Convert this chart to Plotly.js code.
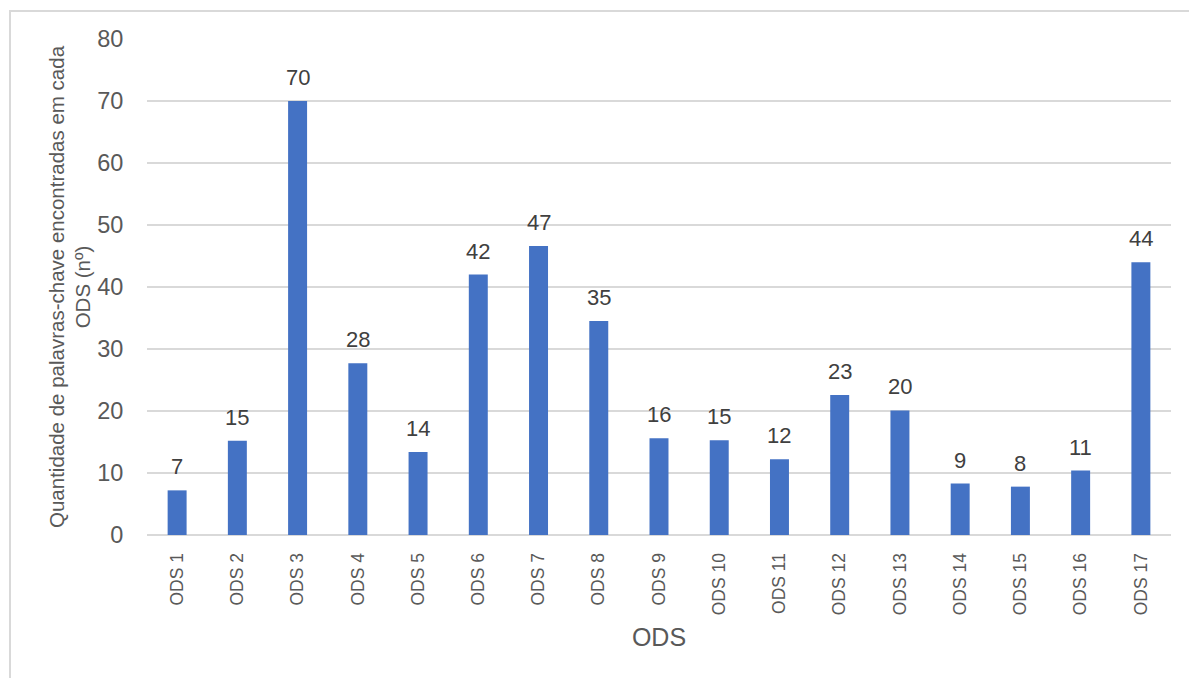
<!DOCTYPE html>
<html>
<head>
<meta charset="utf-8">
<script src="https://cdn.plot.ly/plotly-3.0.1.min.js"></script>
<style>
  html, body { margin: 0; padding: 0; background: #ffffff; }
  #frame { position: absolute; left: 9px; top: 10px; width: 1200px; height: 700px;
           border-left: 2px solid #d9d9d9; border-top: 2px solid #d9d9d9; }
  #chart { position: absolute; left: 0; top: 0; width: 1189px; height: 678px; }
</style>
</head>
<body>
<div id="frame"></div>
<div id="chart"></div>
<script>
// Categories (x axis)
const categories = ["ODS 1","ODS 2","ODS 3","ODS 4","ODS 5","ODS 6","ODS 7","ODS 8","ODS 9",
                    "ODS 10","ODS 11","ODS 12","ODS 13","ODS 14","ODS 15","ODS 16","ODS 17"];
// Bar heights
const values = [7.2, 15.2, 70.0, 27.7, 13.4, 42.0, 46.6, 34.5, 15.6,
                15.3, 12.2, 22.6, 20.1, 8.3, 7.8, 10.4, 44.0];
// Data labels as printed on the chart
const labels = ["7","15","70","28","14","42","47","35","16",
                "15","12","23","20","9","8","11","44"];
// Y axis ticks
const yTicks = [0, 10, 20, 30, 40, 50, 60, 70, 80];

const trace = {
  type: "bar",
  x: categories,
  y: values,
  marker: { color: "#4472C4" },
  hoverinfo: "x+y"
};

const annotations = categories.map((c, i) => ({
  x: c, y: values[i], xref: "x", yref: "y",
  text: labels[i], showarrow: false,
  yanchor: "bottom", yshift: 9,
  font: { family: "Liberation Sans, Arial, sans-serif", size: 22, color: "#404040" }
}));

const layout = {
  width: 1189, height: 678,
  margin: { l: 147, r: 18, t: 39, b: 143, pad: 0 },
  paper_bgcolor: "rgba(0,0,0,0)",
  plot_bgcolor: "rgba(0,0,0,0)",
  bargap: 0.685,
  showlegend: false,
  font: { family: "Liberation Sans, Arial, sans-serif", color: "#595959" },
  xaxis: {
    type: "category",
    tickangle: -90,
    tickfont: { size: 17.5, color: "#595959" },
    ticks: "outside", ticklen: 10, tickcolor: "rgba(0,0,0,0)",
    showline: false, showgrid: false, zeroline: false,
    title: { text: "ODS", font: { size: 25, color: "#595959" }, standoff: 14 },
    automargin: false
  },
  yaxis: {
    range: [0, 80],
    tickvals: yTicks,
    ticktext: yTicks.map(String),
    tickfont: { size: 23.5, color: "#595959" },
    ticks: "outside", ticklen: 18, tickcolor: "rgba(0,0,0,0)",
    showgrid: true, gridcolor: "#d9d9d9", gridwidth: 1.5,
    zeroline: true, zerolinecolor: "#d9d9d9", zerolinewidth: 1.5,
    showline: false,
    title: { text: "Quantidade de palavras-chave encontradas em cada<br>ODS (nº)",
             font: { size: 20.5, color: "#595959" }, standoff: 0 },
    automargin: false
  },
  annotations: annotations
};

Plotly.newPlot("chart", [trace], layout, { displayModeBar: false, staticPlot: true });
</script>
</body>
</html>
